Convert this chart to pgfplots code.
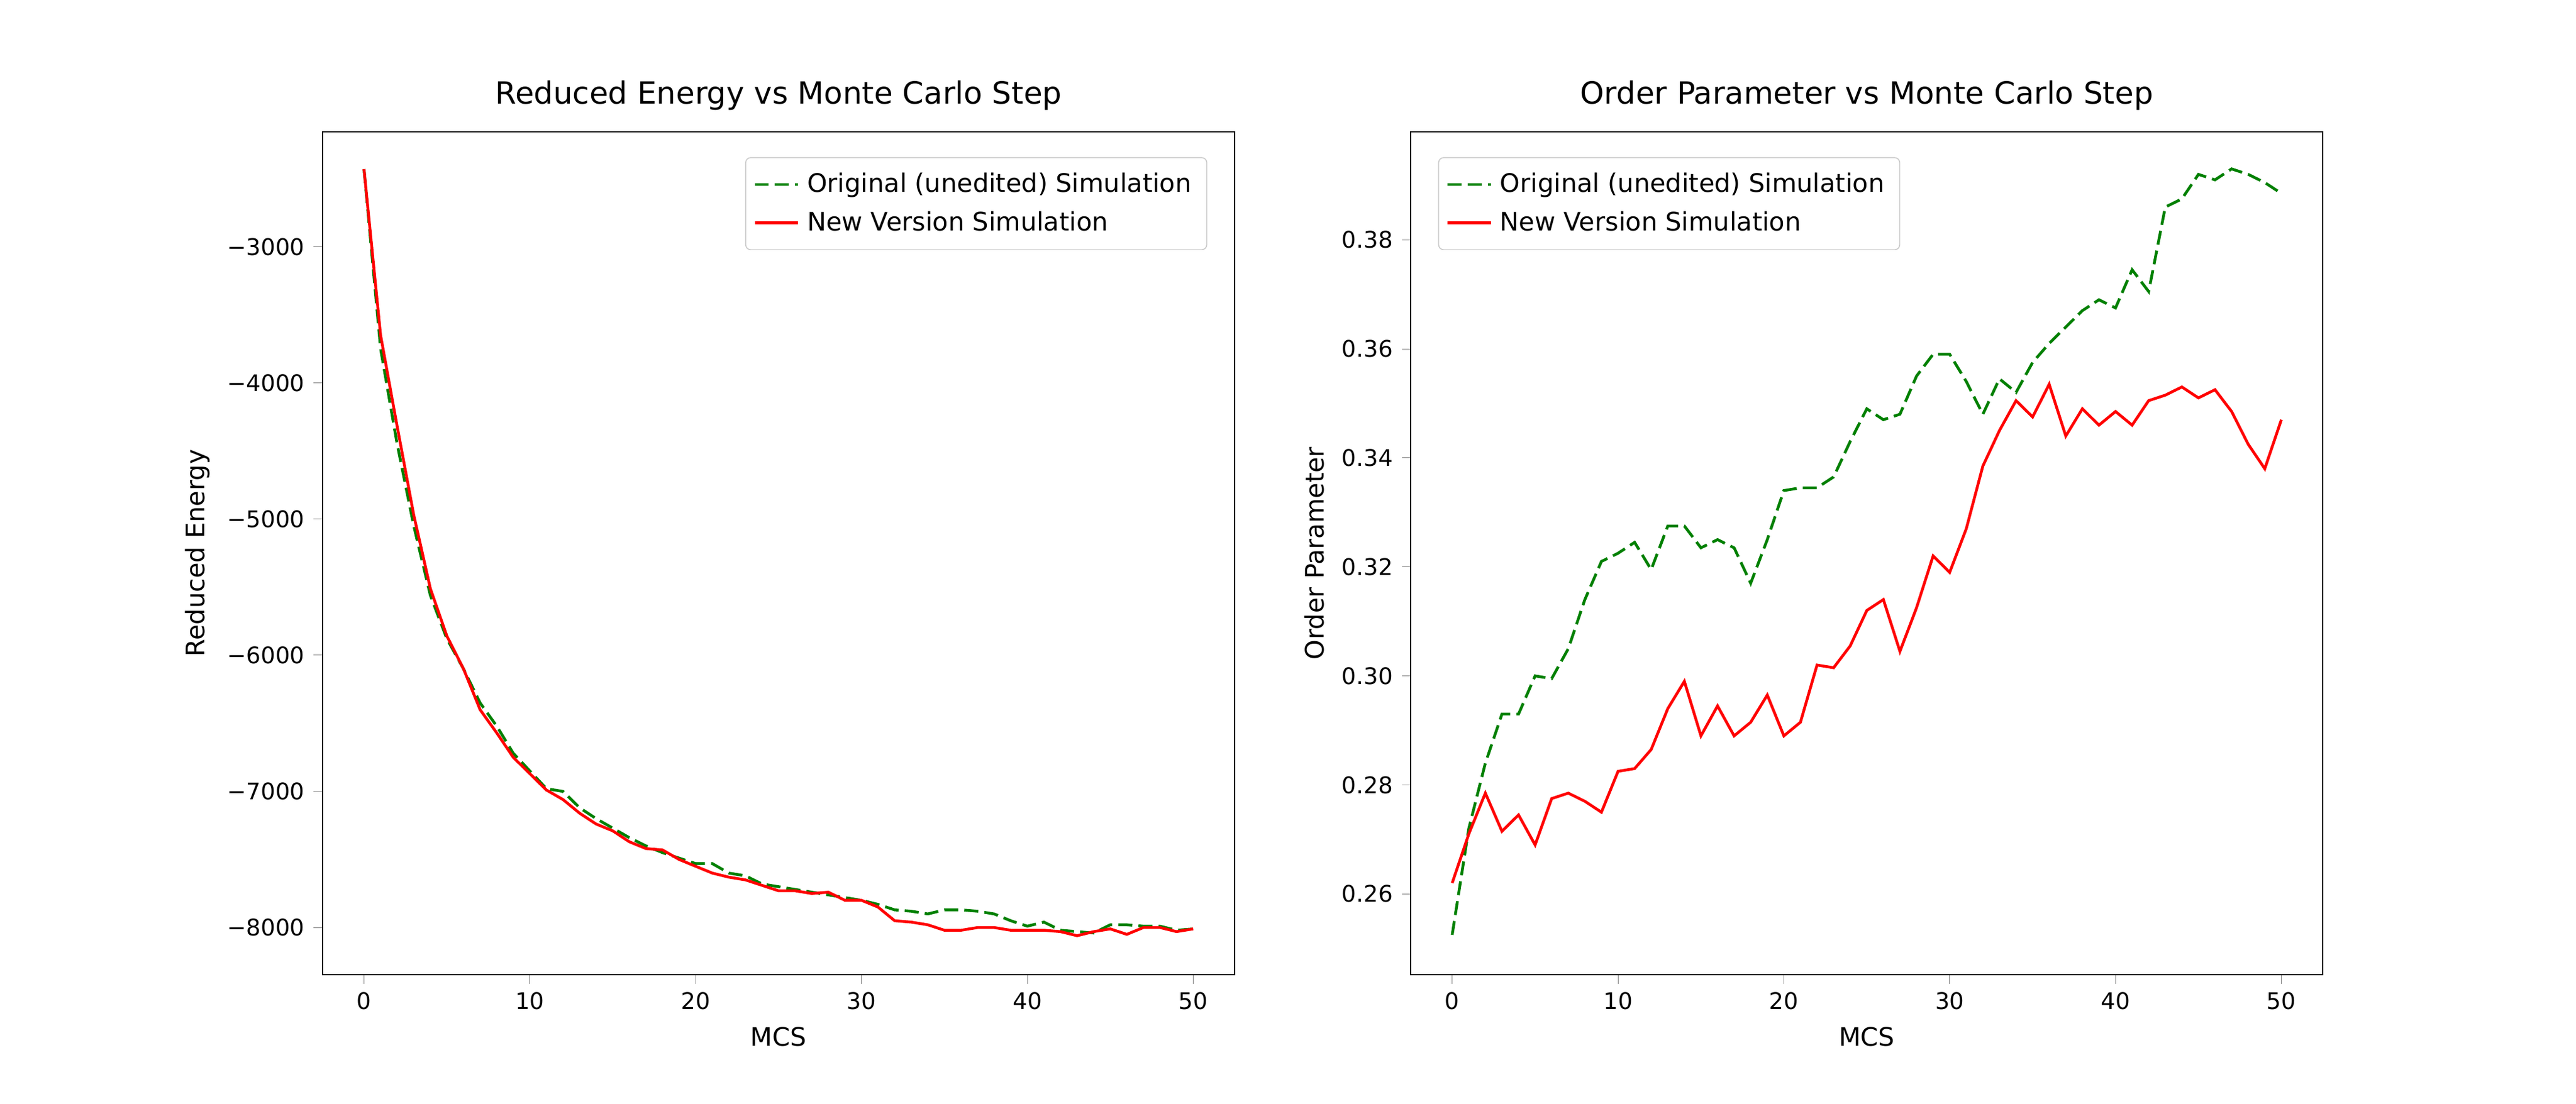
\documentclass[border=0pt]{standalone}
\usepackage{pgfplots}
\pgfplotsset{compat=1.18}
\usepackage{fontspec}
\setmainfont{DejaVu Sans}
\begin{document}
\begin{tikzpicture}
\path[use as bounding box] (0,0) rectangle (14in,6in);
\pgfplotsset{
  myax/.style={scale only axis, width=4.957in, height=4.583in,
    xmin=-2.5, xmax=52.5, tick align=outside, xtick pos=bottom, ytick pos=left,
    xtick={0,10,20,30,40,50},
    /pgf/number format/assume math mode=true,
    tick label style={font=\fontsize{9}{11}\selectfont},
    label style={font=\fontsize{10}{12}\selectfont},
    title style={font=\fontsize{12}{14}\selectfont, yshift=-1pt},
    xlabel={MCS},
    legend cell align=left,
    legend style={font=\fontsize{10}{12}\selectfont, draw=black!20, rounded corners=2pt, inner sep=3pt,
      nodes={inner sep=3pt}},
    major tick length=3.5pt,
  },
  green/.style={color={rgb,255:red,0;green,128;blue,0}, line width=1.1pt, dash pattern=on 5.5pt off 2.4pt},
  red/.style={color=red, line width=1.1pt},
}
\begin{axis}[myax, at={(1.753in,0.70in)}, anchor=south west,
  ymin=-8346, ymax=-2156,
  ytick={-8000,-7000,-6000,-5000,-4000,-3000},
  yticklabels={−8000,−7000,−6000,−5000,−4000,−3000},
  title={Reduced Energy vs Monte Carlo Step}, ylabel={Reduced Energy},
  legend pos=north east]
\addplot[green] coordinates {(0,-2430)(1,-3750)(2,-4450)(3,-5050)(4,-5560)(5,-5880)(6,-6100)(7,-6350)(8,-6520)(9,-6720)(10,-6850)(11,-6980)(12,-7000)(13,-7120)(14,-7200)(15,-7270)(16,-7340)(17,-7400)(18,-7450)(19,-7490)(20,-7530)(21,-7530)(22,-7600)(23,-7620)(24,-7680)(25,-7700)(26,-7720)(27,-7740)(28,-7760)(29,-7780)(30,-7800)(31,-7830)(32,-7870)(33,-7880)(34,-7900)(35,-7870)(36,-7870)(37,-7880)(38,-7900)(39,-7950)(40,-7990)(41,-7960)(42,-8020)(43,-8030)(44,-8040)(45,-7980)(46,-7980)(47,-7990)(48,-7990)(49,-8020)(50,-8010)};
\addlegendentry{Original (unedited) Simulation}
\addplot[red] coordinates {(0,-2430)(1,-3650)(2,-4320)(3,-4970)(4,-5510)(5,-5860)(6,-6100)(7,-6400)(8,-6570)(9,-6750)(10,-6870)(11,-6990)(12,-7060)(13,-7160)(14,-7240)(15,-7290)(16,-7370)(17,-7420)(18,-7430)(19,-7500)(20,-7550)(21,-7600)(22,-7630)(23,-7650)(24,-7690)(25,-7730)(26,-7730)(27,-7750)(28,-7740)(29,-7800)(30,-7800)(31,-7850)(32,-7950)(33,-7960)(34,-7980)(35,-8020)(36,-8020)(37,-8000)(38,-8000)(39,-8020)(40,-8020)(41,-8020)(42,-8030)(43,-8060)(44,-8030)(45,-8010)(46,-8050)(47,-8000)(48,-8000)(49,-8030)(50,-8010)};
\addlegendentry{New Version Simulation}
\end{axis}
\begin{axis}[myax, at={(7.667in,0.70in)}, anchor=south west,
  ymin=0.2452, ymax=0.3998,
  ytick={0.26,0.28,0.30,0.32,0.34,0.36,0.38},
  yticklabel style={/pgf/number format/.cd, fixed, fixed zerofill, precision=2},
  title={Order Parameter vs Monte Carlo Step}, ylabel={Order Parameter},
  legend pos=north west]
\addplot[green] coordinates {(0,0.2525)(1,0.272)(2,0.284)(3,0.293)(4,0.293)(5,0.300)(6,0.2995)(7,0.305)(8,0.314)(9,0.321)(10,0.3225)(11,0.3245)(12,0.3195)(13,0.3275)(14,0.3275)(15,0.3235)(16,0.325)(17,0.3235)(18,0.317)(19,0.325)(20,0.334)(21,0.3345)(22,0.3345)(23,0.3365)(24,0.343)(25,0.349)(26,0.347)(27,0.348)(28,0.355)(29,0.359)(30,0.359)(31,0.354)(32,0.348)(33,0.3545)(34,0.352)(35,0.3575)(36,0.361)(37,0.364)(38,0.367)(39,0.369)(40,0.3675)(41,0.3745)(42,0.3705)(43,0.386)(44,0.3875)(45,0.392)(46,0.391)(47,0.393)(48,0.392)(49,0.3905)(50,0.3885)};
\addlegendentry{Original (unedited) Simulation}
\addplot[red] coordinates {(0,0.262)(1,0.271)(2,0.2785)(3,0.2715)(4,0.2745)(5,0.269)(6,0.2775)(7,0.2785)(8,0.277)(9,0.275)(10,0.2825)(11,0.283)(12,0.2865)(13,0.294)(14,0.299)(15,0.289)(16,0.2945)(17,0.289)(18,0.2915)(19,0.2965)(20,0.289)(21,0.2915)(22,0.302)(23,0.3015)(24,0.3055)(25,0.312)(26,0.314)(27,0.3045)(28,0.3125)(29,0.322)(30,0.319)(31,0.327)(32,0.3385)(33,0.345)(34,0.3505)(35,0.3475)(36,0.3535)(37,0.344)(38,0.349)(39,0.346)(40,0.3485)(41,0.346)(42,0.3505)(43,0.3515)(44,0.353)(45,0.351)(46,0.3525)(47,0.3485)(48,0.3425)(49,0.338)(50,0.347)};
\addlegendentry{New Version Simulation}
\end{axis}
\end{tikzpicture}
\end{document}
